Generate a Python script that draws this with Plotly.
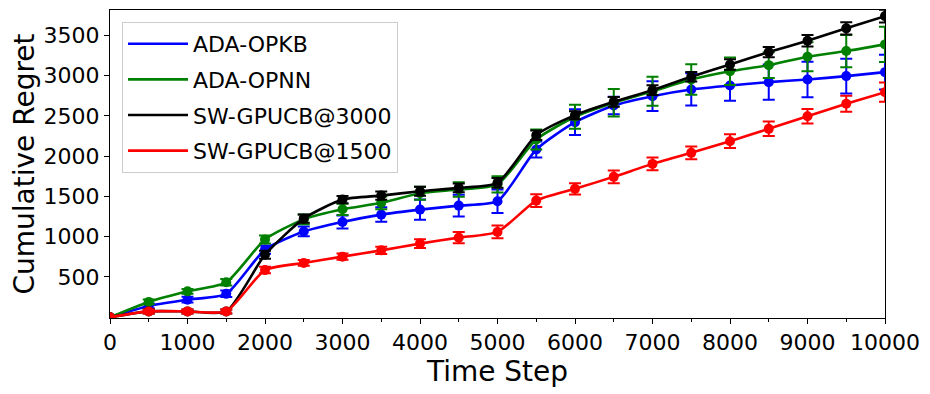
import plotly.graph_objects as go

steps = [0, 500, 1000, 1500, 2000, 2500, 3000, 3500, 4000, 4500, 5000,
         5500, 6000, 6500, 7000, 7500, 8000, 8500, 9000, 9500, 10000]
x_tick_vals = [0, 1000, 2000, 3000, 4000, 5000, 6000, 7000, 8000, 9000, 10000]
x_tick_text = ["0", "1000", "2000", "3000", "4000", "5000", "6000", "7000", "8000", "9000", "10000"]
y_tick_vals = [500, 1000, 1500, 2000, 2500, 3000, 3500]

opkb = [0, 140, 218, 290, 839, 1065, 1183, 1274, 1336, 1386, 1440,
        2082, 2422, 2629, 2745, 2828, 2878, 2919, 2952, 2994, 3043]
opkb_err = [0, 30, 35, 40, 50, 60, 80, 90, 125, 135, 145,
            100, 160, 110, 185, 200, 190, 220, 220, 215, 215]

opnn = [0, 190, 321, 433, 965, 1215, 1340, 1420, 1540, 1585, 1650,
        2207, 2489, 2663, 2805, 2952, 3055, 3130, 3235, 3305, 3388]
opnn_err = [0, 30, 30, 40, 50, 60, 70, 80, 80, 90, 100,
            125, 150, 170, 180, 190, 170, 160, 180, 200, 220]

sw3000 = [0, 72, 72, 72, 776, 1224, 1461, 1510, 1564, 1606, 1668,
          2260, 2509, 2675, 2820, 2986, 3139, 3292, 3433, 3587, 3739]
sw3000_err = [0, 25, 25, 25, 50, 50, 45, 50, 55, 55, 60,
              60, 50, 60, 60, 60, 65, 65, 70, 75, 80]

sw1500 = [0, 72, 72, 72, 585, 674, 752, 830, 914, 988, 1059,
          1448, 1594, 1743, 1904, 2041, 2186, 2339, 2496, 2650, 2795]
sw1500_err = [0, 25, 25, 25, 40, 35, 40, 45, 55, 70, 80,
              80, 70, 80, 80, 80, 85, 90, 90, 100, 120]

names = ["ADA-OPKB", "ADA-OPNN", "SW-GPUCB@3000", "SW-GPUCB@1500"]
colors = ["#0000ff", "#008000", "#000000", "#ff0000"]
series = [(opkb, opkb_err), (opnn, opnn_err), (sw3000, sw3000_err), (sw1500, sw1500_err)]

fig = go.Figure()
for (vals, errs), name, col in zip(series, names, colors):
    fig.add_trace(go.Scatter(
        x=steps, y=vals, mode="lines+markers", name=name, showlegend=False,
        line=dict(color=col, width=2.6, shape="spline", smoothing=0.6),
        marker=dict(color=col, size=10),
        error_y=dict(type="data", array=errs, visible=True, color=col,
                     thickness=2, width=6),
    ))
for name, col in zip(names, colors):
    fig.add_trace(go.Scatter(
        x=[None], y=[None], mode="lines", name=name, legendgroup=name,
        line=dict(color=col, width=2.6), showlegend=True,
    ))

font = "DejaVu Sans, Liberation Sans, sans-serif"
fig.update_layout(
    width=922, height=386,
    margin=dict(l=102, r=45, t=2, b=76),
    plot_bgcolor="white", paper_bgcolor="white",
    font=dict(family=font, color="black", size=22),
    legend=dict(x=0.0155, y=0.961, xanchor="left", yanchor="top",
                bgcolor="rgba(255,255,255,0.85)", bordercolor="#cccccc",
                borderwidth=1, font=dict(size=22), itemwidth=60,
                traceorder="grouped", tracegroupgap=4),
    xaxis=dict(
        range=[0, 10000], tickmode="array",
        tickvals=x_tick_vals, ticktext=x_tick_text,
        ticks="outside", ticklen=5, tickwidth=1, tickcolor="black",
        minor=dict(tickvals=[v + 500 for v in x_tick_vals[:-1]], ticks="outside",
                   ticklen=3, tickwidth=1, tickcolor="black"),
        showline=True, linecolor="black", linewidth=1, mirror=True,
        showgrid=False, zeroline=False,
        tickfont=dict(size=22),
        title=dict(text="Time Step", font=dict(size=28), standoff=6),
    ),
    yaxis=dict(
        range=[-10, 3815], tickmode="array",
        tickvals=y_tick_vals,
        ticks="outside", ticklen=5, tickwidth=1, tickcolor="black",
        showline=True, linecolor="black", linewidth=1, mirror=True,
        showgrid=False, zeroline=False,
        tickfont=dict(size=22),
        title=dict(text="Cumulative Regret", font=dict(size=28), standoff=6),
    ),
)
fig.write_html("out.html")
